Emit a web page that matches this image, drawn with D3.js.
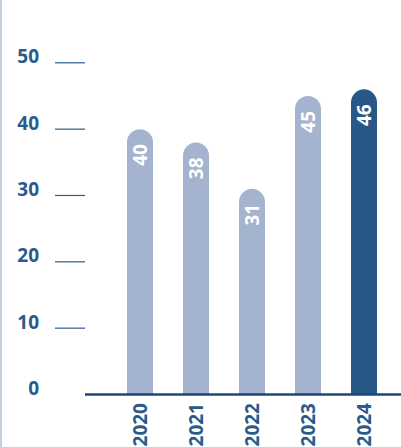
<!DOCTYPE html>
<html>
<head>
<meta charset="utf-8">
<script src="https://cdn.jsdelivr.net/npm/d3@7"></script>
<style>
  body { margin: 0; background: #fff; }
  svg { display: block; font-family: "Open Sans", sans-serif; }
</style>
</head>
<body>
<div id="chart"></div>
<script>
// Data
var years = ["2020", "2021", "2022", "2023", "2024"];
var values = [40, 38, 31, 45, 46];
var yTicks = [0, 10, 20, 30, 40, 50];

var width = 401, height = 447;
var y0 = 394.5, y50 = 62.8;

var svg = d3.select("#chart")
  .append("svg")
  .attr("width", width)
  .attr("height", height);

// light frame line on the left
svg.append("rect")
  .attr("x", 0).attr("y", 0)
  .attr("width", 2).attr("height", height)
  .attr("fill", "#c3d1df");

var x = d3.scaleBand()
  .domain(years)
  .range([112, 392])
  .paddingInner(0.536)
  .paddingOuter(0.268);

var y = d3.scaleLinear()
  .domain([0, 50])
  .range([y0, y50]);

// Y ticks: short lines + labels
var tick = svg.append("g").selectAll("g")
  .data(yTicks)
  .enter().append("g");

tick.filter(function (d) { return d > 0; })
  .append("line")
  .attr("x1", 55).attr("x2", 85)
  .attr("y1", function (d) { return y(d); })
  .attr("y2", function (d) { return y(d); })
  .attr("stroke", "#2b5a8c")
  .attr("stroke-width", 1.2);

tick.append("text")
  .attr("x", 39)
  .attr("y", function (d) { return y(d) - 6; })
  .attr("dy", "0.35em")
  .attr("text-anchor", "end")
  .attr("fill", "#2b5a8c")
  .style("font-size", "19px")
  .style("font-weight", "bold")
  .text(function (d) { return d; });

// Bars with rounded tops
var r = x.bandwidth() / 2;
function barPath(d, i) {
  var x0 = x(years[i]), w = x.bandwidth();
  var top = y(d), bottom = y(0);
  return "M" + x0 + "," + bottom +
    "V" + (top + r) +
    "A" + r + "," + r + " 0 0 1 " + (x0 + w) + "," + (top + r) +
    "V" + bottom + "Z";
}

svg.append("g").selectAll("path")
  .data(values)
  .enter().append("path")
  .attr("d", barPath)
  .attr("fill", function (d, i) { return i === values.length - 1 ? "#285886" : "#a4b3ce"; });

// Value labels inside bars
svg.append("g").selectAll("text")
  .data(values)
  .enter().append("text")
  .attr("transform", function (d, i) {
    return "translate(" + (x(years[i]) + r) + "," + (y(d) + 15) + ") rotate(-90)";
  })
  .attr("dy", "0.35em")
  .attr("text-anchor", "end")
  .attr("fill", "#fff")
  .style("font-size", "19px")
  .style("font-weight", "bold")
  .text(function (d) { return d; });

// Baseline
svg.append("line")
  .attr("x1", 85).attr("x2", width)
  .attr("y1", y(0)).attr("y2", y(0))
  .attr("stroke", "#1c4676")
  .attr("stroke-width", 2.5);

// Year labels
svg.append("g").selectAll("text")
  .data(years)
  .enter().append("text")
  .attr("transform", function (d) {
    return "translate(" + (x(d) + r) + ",403) rotate(-90)";
  })
  .attr("dy", "0.35em")
  .attr("text-anchor", "end")
  .attr("fill", "#2b5a8c")
  .style("font-size", "19px")
  .style("font-weight", "bold")
  .text(function (d) { return d; });
</script>
</body>
</html>
